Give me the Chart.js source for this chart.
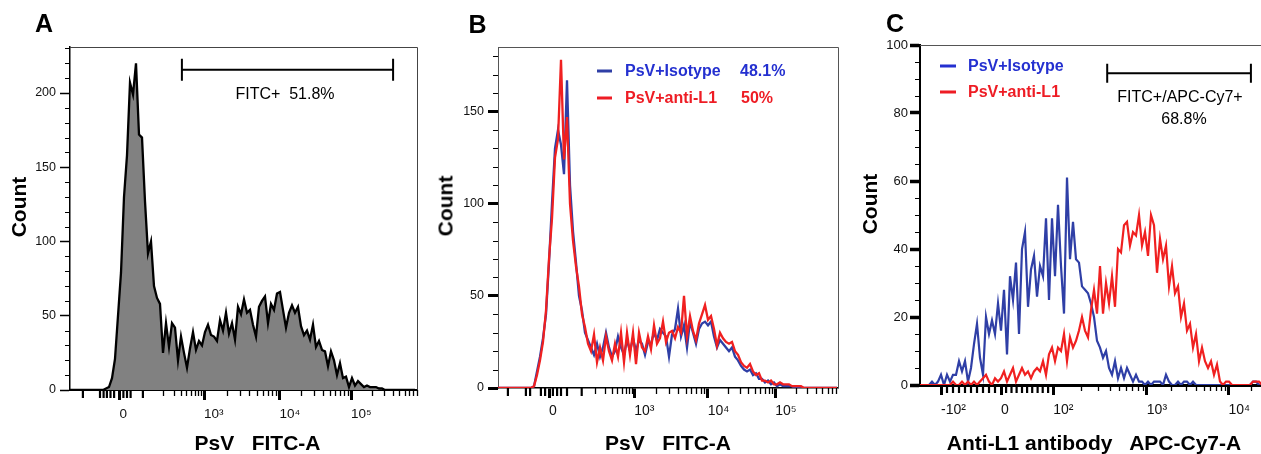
<!DOCTYPE html>
<html><head><meta charset="utf-8">
<script src="https://cdn.jsdelivr.net/npm/chart.js@4.4.1/dist/chart.umd.min.js"></script>
<style>
html,body{margin:0;padding:0;background:#fff;overflow:hidden;width:1261px;height:454px;position:relative;}
.w{position:absolute;top:0;}
.t{position:absolute;transform:translate(-50%,-50%);line-height:1;white-space:pre;font-family:"Liberation Sans",Arial,sans-serif;color:#000;}
.l{position:absolute;transform:translateY(-50%);line-height:1;white-space:pre;font-family:"Liberation Sans",Arial,sans-serif;font-weight:bold;font-size:16px;}
.d{position:absolute;height:3px;transform:translateY(-50%);}
</style></head><body>
<div class="w" style="left:0;width:420px;height:454px"><canvas id="cA" width="420" height="454"></canvas></div>
<div class="w" style="left:420px;width:430px;height:454px"><canvas id="cB" width="430" height="454"></canvas></div>
<div class="w" style="left:850px;width:420px;height:454px"><canvas id="cC" width="420" height="454"></canvas></div>

<div class="t" style="left:44px;top:22.5px;font-weight:bold;font-size:25px">A</div>
<div class="t" style="left:477.5px;top:24px;font-weight:bold;font-size:25px">B</div>
<div class="t" style="left:895px;top:22.5px;font-weight:bold;font-size:25px">C</div>

<div class="t" style="left:17.5px;top:207px;font-weight:bold;font-size:21px;transform:translate(-50%,-50%) rotate(-90deg)">Count</div>
<div class="t" style="left:444.5px;top:206px;font-weight:bold;font-size:21px;transform:translate(-50%,-50%) rotate(-90deg)">Count</div>
<div class="t" style="left:869px;top:204px;font-weight:bold;font-size:21px;transform:translate(-50%,-50%) rotate(-90deg)">Count</div>

<div class="t" style="left:257.5px;top:442px;font-weight:bold;font-size:21px">PsV   FITC-A</div>
<div class="t" style="left:668px;top:442px;font-weight:bold;font-size:21px">PsV   FITC-A</div>
<div class="t" style="left:1094px;top:442px;font-weight:bold;font-size:21px">Anti-L1 antibody   APC-Cy7-A</div>

<div class="t" style="left:285px;top:93.5px;font-size:16px">FITC+  51.8%</div>
<div class="t" style="left:1180px;top:96.7px;font-size:16px">FITC+/APC-Cy7+</div>
<div class="t" style="left:1184px;top:118.7px;font-size:16px">68.8%</div>

<div class="d" style="left:597px;top:71px;width:15px;background:#2f3fa6"></div>
<div class="l" style="left:625px;top:71px;color:#2430d0">PsV+Isotype</div>
<div class="l" style="left:740px;top:71px;color:#2430d0">48.1%</div>
<div class="d" style="left:597px;top:97.5px;width:15px;background:#ee1c24"></div>
<div class="l" style="left:625px;top:97.5px;color:#ee1c24">PsV+anti-L1</div>
<div class="l" style="left:741px;top:97.5px;color:#ee1c24">50%</div>

<div class="d" style="left:940px;top:66px;width:16px;background:#2430d0"></div>
<div class="l" style="left:968px;top:66px;color:#2430d0">PsV+Isotype</div>
<div class="d" style="left:940px;top:92px;width:16px;background:#ee1c24"></div>
<div class="l" style="left:968px;top:92px;color:#ee1c24">PsV+anti-L1</div>

<script>
const FONT = '"Liberation Sans", Arial, "DejaVu Sans", sans-serif';

// ---------- Panel A : PsV FITC-A (counts per channel bin) ----------
const aCounts = [0,0,0,0,0,0,0,0,0,0, 0,0,1,2,8,21,50,79,130,158, 207,199,220,172,170,127,92,100,70,62,
  58,25,45,29,45,42,20,36,25,15, 28,39,27,33,30,39,44,37,36,33, 47,40,52,38,45,34,56,51,61,52,
  54,44,36,56,60,63,45,58,54,65, 66,54,42,52,57,52,56,43,37,40, 34,44,29,33,27,26,16,26,20,10,
  18,8,9,2,8,3,6,4,2,3, 2,2,2,1,1,0,0,0,0,0, 0,0,0,0,0,0];
const aXTicks = [16.5, 44.7, 69.8, 93.7];
const aXLabels = ['0', '10\u00B3', '10\u2074', '10\u2075'];
const aDecades = [[25.2,44.7],[44.7,69.8],[69.8,93.7],[93.7,116.7]];
const aZeroTicks = [4.3, 10, 11.2, 12.3, 13.5, 14.7, 17.8, 19, 20.2, 24.3];
const aYTicks = [0, 50, 100, 150, 200];
const aGate = [37.3, 107.7];
const aGateLevel = 215.6;

// ---------- Panel B : PsV+Isotype vs PsV+anti-L1 ----------
const bIsotype = [0,0,0,0,0,0,0,0,0,0, 0,0,1,9,17,27,40,68,100,130, 140,132,116,167,110,85,68,50,42,30,
  26,22,18,24,17,22,30,22,17,20, 28,22,18,26,20,27,20,26,24,18, 25,24,30,26,32,30,28,17,29,32,
  43,28,34,22,36,30,24,32,35,36, 34,36,28,22,26,24,22,20,22,17, 15,12,10,9,10,7,8,5,5,3,
  4,2,3,1,2,1,1,1,1,0, 0,0,0,0,0,0,0,0,0,0, 0,0,0,0];
const bAntiL1 = [0,0,0,0,0,0,0,0,0,0, 0,0,1,7,15,25,42,70,92,125, 135,178,124,147,100,80,66,55,40,33,
  24,20,29,14,22,15,28,20,15,24, 17,30,14,30,18,30,13,30,22,20, 28,21,34,24,27,36,25,30,31,27,
  33,30,50,28,39,31,26,35,40,45, 37,39,32,23,30,27,25,24,25,20, 18,14,12,11,13,9,7,8,4,4,
  3,4,2,2,3,2,2,2,1,1, 1,1,0,0,0,0,0,0,0,0, 0,0,0,0];
const bXTicks = [17, 45.4, 69.9, 92.4];
const bXLabels = ['0', '10\u00B3', '10\u2074', '10\u2075'];
const bDecades = [[26.7,45.4],[45.4,69.9],[69.9,92.4],[92.4,114.9]];
const bZeroTicks = [3.3, 9.3, 10.7, 14.3, 15.7, 18.3, 19.7, 21, 23, 27.9];
const bYTicks = [0, 50, 100, 150];

// ---------- Panel C : Anti-L1 antibody APC-Cy7-A ----------
const cIsotype = [0,0,0,0,1,0,1,3,0,3, 1,3,3,7,4,7,1,5,12,18, 8,3,20,15,19,15,24,16,28,9,
  32,25,36,15,40,45,23,34,38,26, 35,32,49,25,49,32,53,35,21,61, 37,48,37,36,29,28,27,24,20,13,
  11,8,10,5,3,7,2,5,2,5, 3,1,3,1,1,0,1,0,1,1, 1,0,3,1,0,0,1,0,1,1,
  0,1,0,0,0,0,0,0,0,0, 0,0,0,0,0,0,0,0,0,0, 0,1,1,0,0];
const cAntiL1 = [0,0,0,0,0,0,0,0,0,0, 0,1,0,0,1,0,1,0,1,0, 1,2,3,1,0,2,1,2,4,1,
  3,5,1,3,5,3,4,2,4,5, 4,7,3,9,11,7,11,10,15,7, 14,11,13,16,20,16,14,22,28,21,
  35,21,30,24,32,23,40,39,47,48, 41,45,44,50,41,45,38,50,47,33, 43,37,41,29,35,27,29,20,24,16,
  18,11,15,7,11,7,5,7,3,6, 1,0,1,1,0,0,0,0,0,0, 0,1,1,1,0];
const cXTicks = [7, 27, 44.4, 75.6, 102.8];
const cXLabels = ['-10\u00B2', '0', '10\u00B2', '10\u00B3', '10\u2074'];
const cDecades = [[44.4,75.6],[75.6,102.8],[102.8,128]];
const cZeroTicks = [9,11,13,15,17,19,21,23,25,28.7,30.5,32.2,34,35.7,37.4,39.2,40.9,42.7];
const cYTicks = [0, 20, 40, 60, 80, 100];
const cGate = [62.4, 110.3];
const cGateLevel = 91.7;

const BLUE = '#2f3fa6', RED = '#f02020';

function pts(arr){ return arr.map((c,i)=>({x:i, y:c})); }
function logMinors(pairs, max){
  const out=[];
  for(const [a,b] of pairs){ for(let m=2;m<=9;m++){ const v=a+(b-a)*Math.log10(m); if(v<=max) out.push(v); } }
  return out;
}

const deco = {
  id:'deco',
  beforeDatasetsDraw(chart, args, o){
    const {ctx, chartArea:ca} = chart;
    ctx.save();
    ctx.strokeStyle = o.frameColor; ctx.lineWidth = 1;
    ctx.beginPath();
    ctx.moveTo(ca.left, ca.top+0.5); ctx.lineTo(ca.right+0.5, ca.top+0.5);
    ctx.lineTo(ca.right+0.5, ca.bottom);
    ctx.stroke();
    ctx.restore();
  },
  afterDraw(chart, args, o){
    const {ctx, chartArea:ca, scales:{x,y}} = chart;
    ctx.save();
    ctx.strokeStyle = '#000';
    ctx.lineWidth = 1.3;
    for(const v of o.xMinor){
      if(v < x.min || v > x.max) continue;
      const px = Math.round(x.getPixelForValue(v))+0.5;
      ctx.beginPath(); ctx.moveTo(px, ca.bottom); ctx.lineTo(px, ca.bottom+6); ctx.stroke();
    }
    ctx.lineWidth = 2.2;
    for(const v of o.xZero){
      const px = x.getPixelForValue(v);
      ctx.beginPath(); ctx.moveTo(px, ca.bottom); ctx.lineTo(px, ca.bottom+8); ctx.stroke();
    }
    ctx.lineWidth = 1;
    for(let v=o.yStep; v<=y.max; v+=o.yStep){
      if(o.yMajor.includes(v)) continue;
      const py = Math.round(y.getPixelForValue(v))+0.5;
      ctx.beginPath(); ctx.moveTo(ca.left, py); ctx.lineTo(ca.left-5, py); ctx.stroke();
    }
    if(o.gate){
      const x1 = x.getPixelForValue(o.gate[0]), x2 = x.getPixelForValue(o.gate[1]);
      const gy = y.getPixelForValue(o.gateLevel);
      ctx.lineWidth = 2;
      ctx.beginPath();
      ctx.moveTo(x1, gy); ctx.lineTo(x2, gy);
      ctx.moveTo(x1, gy-o.cap); ctx.lineTo(x1, gy+o.cap);
      ctx.moveTo(x2, gy-o.cap); ctx.lineTo(x2, gy+o.cap);
      ctx.stroke();
    }
    ctx.restore();
  }
};

function makeChart(id, c){
  return new Chart(document.getElementById(id), {
    type:'line',
    data:{datasets:c.datasets},
    options:{
      responsive:false, animation:false, events:[],
      layout:{padding:c.pad},
      elements:{point:{radius:0}, line:{tension:0}},
      plugins:{legend:{display:false}, tooltip:{enabled:false}, deco:c.deco},
      scales:{
        x:{type:'linear', min:0, max:c.xMax, position:'bottom',
          afterFit:s=>{ s.height = c.xH; },
          afterBuildTicks:s=>{ s.ticks = c.xTicks.map(v=>({value:v})); },
          ticks:{autoSkip:false, align:'start', maxRotation:0, minRotation:0, padding:c.xPad, color:'#111',
            font:{family:FONT, size:c.xFont}, callback:(v,i)=>c.xLabels[i]},
          grid:{drawOnChartArea:false, drawTicks:true, tickLength:10, tickWidth:3, tickColor:'#000'},
          border:{display:true, color:'#000', width:c.xBorder}},
        y:{type:'linear', min:0, max:c.yMax, position:'left',
          afterFit:s=>{ s.width = c.yW; },
          afterBuildTicks:s=>{ s.ticks = c.yTicks.map(v=>({value:v})); },
          ticks:{padding:c.yPad, color:'#111', font:{family:FONT, size:c.yFont}, callback:v=>String(v)},
          grid:{drawOnChartArea:false, drawTicks:true, tickLength:10, tickWidth:c.yTickW, tickColor:'#000'},
          border:{display:true, color:c.yBorderColor, width:c.yBorder}}
      }
    },
    plugins:[deco]
  });
}

makeChart('cA', {
  datasets:[{data:pts(aCounts), borderColor:'#000', borderWidth:2.3, backgroundColor:'#818181', fill:'origin'}],
  pad:{top:47, right:3, left:0, bottom:0}, xMax:115.67, xH:64, yW:70, yMax:231,
  xTicks:aXTicks, xLabels:aXLabels, xFont:13.5, xPad:6,
  yTicks:aYTicks, yFont:12.5, yPad:4, yTickW:1.5, yBorder:1.5, yBorderColor:'#000', xBorder:2,
  deco:{frameColor:'#444', xMinor:logMinors(aDecades,115.67), xZero:aZeroTicks, yStep:10, yMajor:aYTicks,
        gate:aGate, gateLevel:aGateLevel, cap:11}
});

makeChart('cB', {
  datasets:[
    {data:pts(bAntiL1), borderColor:RED, borderWidth:2.3, fill:false},
    {data:pts(bIsotype), borderColor:BLUE, borderWidth:2.3, fill:false}
  ],
  pad:{top:47, right:12, left:0, bottom:0}, xMax:113.33, xH:66, yW:78, yMax:185,
  xTicks:bXTicks, xLabels:bXLabels, xFont:14, xPad:5,
  yTicks:bYTicks, yFont:12.5, yPad:4, yTickW:3, yBorder:1, yBorderColor:'#555', xBorder:1.5,
  deco:{frameColor:'#555', xMinor:logMinors(bDecades,113.33), xZero:bZeroTicks, yStep:10, yMajor:bYTicks}
});

makeChart('cC', {
  datasets:[
    {data:pts(cAntiL1), borderColor:RED, borderWidth:2.2, fill:false},
    {data:pts(cIsotype), borderColor:BLUE, borderWidth:2.2, fill:false}
  ],
  pad:{top:45, right:7, left:0, bottom:0}, xMax:114.33, xH:69, yW:70, yMax:100,
  xTicks:cXTicks, xLabels:cXLabels, xFont:14, xPad:7,
  yTicks:cYTicks, yFont:13, yPad:2, yTickW:3.5, yBorder:2, yBorderColor:'#000', xBorder:3,
  deco:{frameColor:'#555', xMinor:logMinors(cDecades,114.33), xZero:cZeroTicks, yStep:5, yMajor:cYTicks,
        gate:cGate, gateLevel:cGateLevel, cap:9.5}
});
</script>
</body></html>
